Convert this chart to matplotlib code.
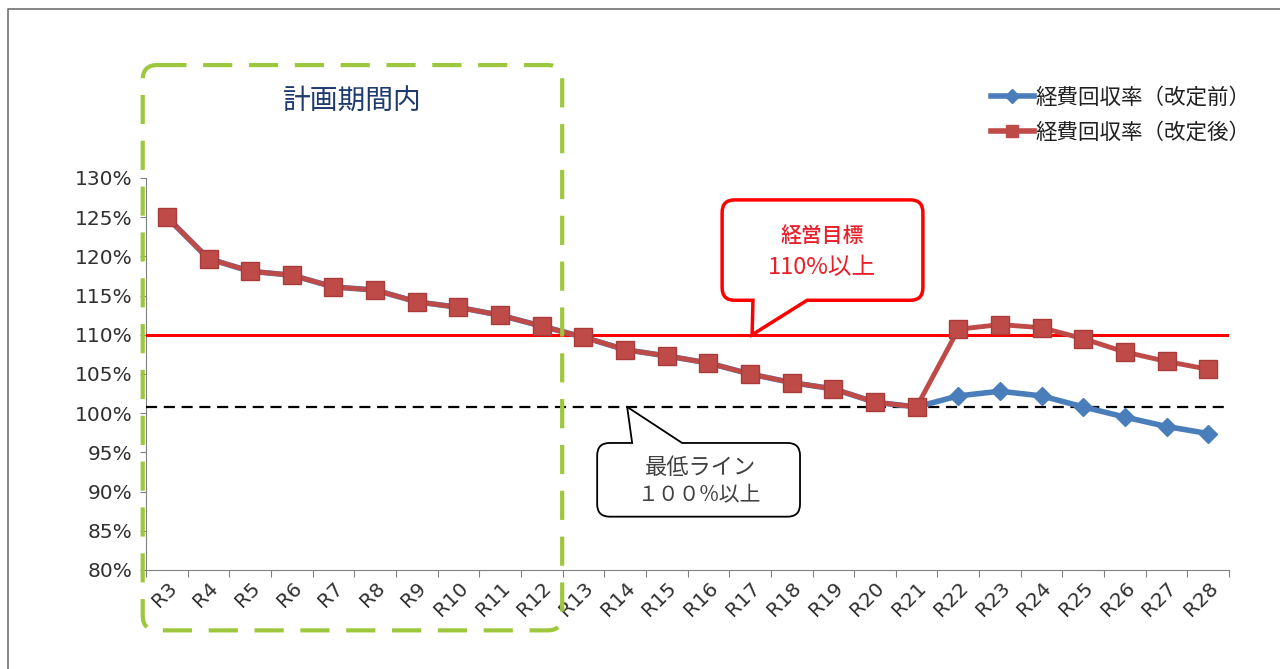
import matplotlib
matplotlib.use("Agg")
import matplotlib.pyplot as plt
from matplotlib.path import Path
from matplotlib.patches import PathPatch
from matplotlib.lines import Line2D

plt.rcParams['font.family'] = ['DejaVu Sans', 'Noto Sans CJK JP']

# data
years = ['R3', 'R4', 'R5', 'R6', 'R7', 'R8', 'R9', 'R10', 'R11', 'R12', 'R13',
         'R14', 'R15', 'R16', 'R17', 'R18', 'R19', 'R20', 'R21', 'R22', 'R23',
         'R24', 'R25', 'R26', 'R27', 'R28']
after = [125.0, 119.7, 118.1, 117.6, 116.1, 115.7, 114.2, 113.5, 112.5, 111.1,
         109.7, 108.1, 107.3, 106.4, 105.0, 103.9, 103.1, 101.4, 100.8, 110.7,
         111.3, 110.9, 109.5, 107.8, 106.6, 105.6]
before = after[:19] + [102.2, 102.8, 102.2, 100.8, 99.5, 98.3, 97.4]
target = 110
minimum = 100.8
name_before = '経費回収率（改定前）'
name_after = '経費回収率（改定後）'

blue = '#4A7EBB'
red = '#BE4B48'
jp = ['Noto Sans CJK JP', 'DejaVu Sans']

fig = plt.figure(figsize=(12.8, 6.69), dpi=100)
ax = fig.add_axes([0.1141, 0.148, 0.8461, 0.586])

x = list(range(len(years)))
ax.plot(x, before, color=blue, lw=4, marker='D', ms=9, mfc=blue, mec=blue, zorder=4)
ax.plot(x, after, color=red, lw=3.5, marker='s', ms=13, mfc=red, mec='#A93C3A', zorder=5)

ax.axhline(target, color='#FF0000', lw=2.2, zorder=3)
ax.axhline(minimum, color='black', lw=1.6, ls=(0, (5, 3)), zorder=3)

ax.set_xlim(-0.5, len(years) - 0.5)
ax.set_ylim(80, 130)
ax.set_yticks(range(80, 131, 5))
ax.set_yticklabels([f'{v}%' for v in range(80, 131, 5)])
ax.set_xticks([i - 0.5 for i in range(len(years) + 1)], minor=False)
ax.set_xticklabels([])
ax.set_xticks(x, minor=True)
ax.set_xticklabels(years, minor=True, rotation=45, ha='right', va='top',
                   rotation_mode='anchor')
ax.tick_params(axis='x', which='minor', length=0, labelsize=14.5,
               labelcolor='#303030', pad=6)
ax.tick_params(axis='x', which='major', length=5, color='#808080')
ax.tick_params(axis='y', length=4, color='#808080', labelsize=14.5,
               labelcolor='#303030', pad=6)
for s in ['top', 'right']:
    ax.spines[s].set_visible(False)
for s in ['left', 'bottom']:
    ax.spines[s].set_color('#808080')


def rounded(x0, x1, y0, y1, rx, ry, tail=None, tail_side='bottom'):
    verts = [(x0 + rx, y1)]
    codes = [Path.MOVETO]

    def seg(pts, cs):
        verts.extend(pts)
        codes.extend(cs)
    if tail is not None and tail_side == 'top':
        a, b, tx, ty = tail
        seg([(a, y1), (tx, ty), (b, y1)], [Path.LINETO] * 3)
    seg([(x1 - rx, y1)], [Path.LINETO])
    seg([(x1, y1), (x1, y1 - ry)], [Path.CURVE3] * 2)
    seg([(x1, y0 + ry)], [Path.LINETO])
    seg([(x1, y0), (x1 - rx, y0)], [Path.CURVE3] * 2)
    if tail is not None and tail_side == 'bottom':
        a, b, tx, ty = tail
        seg([(b, y0), (tx, ty), (a, y0)], [Path.LINETO] * 3)
    seg([(x0 + rx, y0)], [Path.LINETO])
    seg([(x0, y0), (x0, y0 + ry)], [Path.CURVE3] * 2)
    seg([(x0, y1 - ry)], [Path.LINETO])
    seg([(x0, y1), (x0 + rx, y1)], [Path.CURVE3] * 2)
    seg([(x0 + rx, y1)], [Path.CLOSEPOLY])
    return Path(verts, codes)


# planning-period box
green = PathPatch(rounded(-0.58, 9.49, 72.3, 144.4, 0.35, 1.9), fill=False,
                  ec='#9DC73C', lw=3, ls=(0, (7, 4)), clip_on=False, zorder=6)
ax.add_patch(green)
ax.text(4.44, 139.8, '計画期間内', family=jp, fontsize=20, color='#1F3B6E',
        ha='center', va='center')

# target callout
p = PathPatch(rounded(13.33, 18.15, 114.4, 127.2, 0.3, 1.6,
                      tail=(14.07, 15.37, 14.05, target)),
              fc='white', ec='#FF0000', lw=2.5, zorder=7, clip_on=False)
ax.add_patch(p)
ax.text(15.73, 122.6, '経営目標', family=jp, fontsize=15, color='#E8202A',
        ha='center', va='center', fontweight='medium', zorder=8)
ax.text(15.73, 118.6, '110%以上', family=jp, fontsize=17, color='#E8202A',
        ha='center', va='center', zorder=8)

# minimum callout
p = PathPatch(rounded(10.33, 15.2, 86.8, 96.2, 0.3, 1.6,
                      tail=(11.17, 12.37, 11.05, minimum), tail_side='top'),
              fc='white', ec='black', lw=1.3, zorder=7, clip_on=False)
ax.add_patch(p)
ax.text(12.8, 93.1, '最低ライン', family=jp, fontsize=16, color='#404040',
        ha='center', va='center', zorder=8)
ax.text(12.8, 89.5, '１００%以上', family=jp, fontsize=15, color='#404040',
        ha='center', va='center', zorder=8)

# legend
handles = [Line2D([], [], color=blue, lw=4, marker='D', ms=7),
           Line2D([], [], color=red, lw=4, marker='s', ms=9)]
leg = fig.legend(handles, [name_before, name_after], loc='upper left',
                 bbox_to_anchor=(982 / 1280, 1 - 78 / 669), frameon=False,
                 prop={'family': jp, 'size': 15.5}, handlelength=2.0,
                 handletextpad=0.1, labelspacing=0.6, borderaxespad=0)
for t in leg.get_texts():
    t.set_color('#202020')

# outer frame (top and left edges)
fig.add_artist(Line2D([8 / 1280, 8 / 1280, 1], [0, 1 - 9 / 669, 1 - 9 / 669],
                      color='#707070', lw=1.2))

fig.savefig('out.png', dpi=100)
